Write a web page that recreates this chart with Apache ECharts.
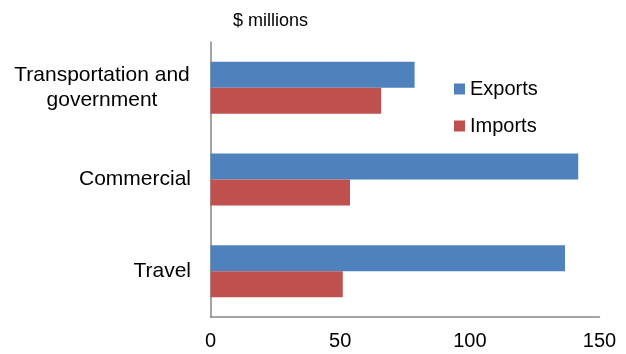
<!DOCTYPE html>
<html>
<head>
<meta charset="utf-8">
<script src="https://cdn.jsdelivr.net/npm/echarts@6/dist/echarts.min.js"></script>
<style>
html,body{margin:0;padding:0;background:#fff;}
#chart{width:626px;height:354px;}
</style>
</head>
<body>
<div id="chart"></div>
<script>
const categories = ['Travel', 'Commercial', 'Transportation and government'];
const exportsValues = [136.7, 141.8, 78.7];
const importsValues = [51.0, 53.8, 65.8];
const xTicks = { min: 0, max: 150, interval: 50 };

const chart = echarts.init(document.getElementById('chart'));
const font = 'Arial, "Liberation Sans", sans-serif';
chart.setOption({
  animation: false,
  backgroundColor: '#ffffff',
  title: {
    text: '$ millions',
    left: 228, top: 7,
    textStyle: { fontFamily: font, fontSize: 18, fontWeight: 'normal', color: '#000' }
  },
  legend: {
    orient: 'vertical',
    left: 449, top: 74,
    itemWidth: 11, itemHeight: 11, itemGap: 17,
    icon: 'rect',
    data: ['Exports', 'Imports'],
    textStyle: { fontFamily: font, fontSize: 20, color: '#000' }
  },
  grid: { left: 210.5, right: 26.5, top: 42, bottom: 37, containLabel: false },
  xAxis: {
    type: 'value',
    min: xTicks.min, max: xTicks.max, interval: xTicks.interval,
    axisLine: { show: true, lineStyle: { color: '#868686', width: 1.5 } },
    axisTick: { show: false },
    splitLine: { show: false },
    axisLabel: { fontFamily: font, fontSize: 20, color: '#000', margin: 14 }
  },
  yAxis: {
    type: 'category',
    data: categories,
    axisLine: { show: true, lineStyle: { color: '#868686', width: 1.5 } },
    axisTick: { show: false },
    axisLabel: {
      fontFamily: font, fontSize: 21, color: '#000', margin: 19.5, lineHeight: 25,
      formatter: function (v) {
        if (v === 'Transportation and government') {
          return '{c|Transportation and}\n{c|government}';
        }
        return v;
      },
      rich: {
        c: { fontFamily: font, fontSize: 21, color: '#000', width: 178, align: 'center', lineHeight: 25 }
      }
    }
  },
  series: [
    {
      name: 'Exports', type: 'bar', data: exportsValues,
      barWidth: 26, barGap: '0%',
      itemStyle: { color: '#4F81BD' }
    },
    {
      name: 'Imports', type: 'bar', data: importsValues,
      barWidth: 26, barGap: '0%',
      itemStyle: { color: '#C0504D' }
    }
  ]
});
</script>
</body>
</html>
